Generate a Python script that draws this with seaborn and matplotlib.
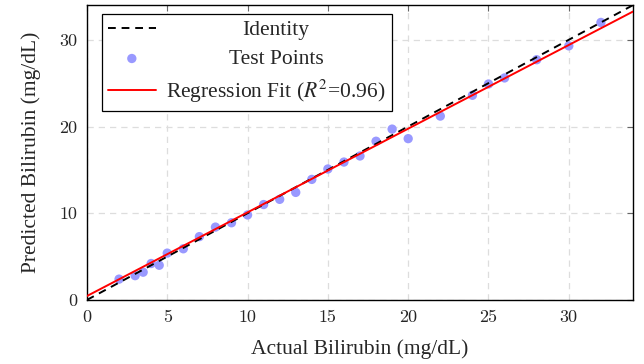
import numpy as np
import pandas as pd
import matplotlib
matplotlib.use("Agg")
import matplotlib.pyplot as plt
import seaborn as sns

# values
actual = [2, 3, 3.5, 4, 4.5, 5, 6, 7, 8, 9, 10, 11, 12, 13, 14, 15, 16, 17,
          18, 19, 20, 22, 24, 25, 26, 28, 30, 32]
predicted = [2.4, 2.8, 3.2, 4.2, 4.0, 5.4, 5.9, 7.3, 8.4, 8.9, 9.8, 11.0, 11.6,
             12.4, 13.9, 15.1, 15.9, 16.6, 18.3, 19.7, 18.6, 21.2, 23.6, 24.9,
             25.6, 27.7, 29.3, 32.0]
fit_slope = 0.965
fit_intercept = 0.45
r2_label = "0.96"
x_ticks = [0, 5, 10, 15, 20, 25, 30]
y_ticks = [0, 10, 20, 30]
x_max = 34
y_max = 34

sns.set_style("white")
plt.rcParams['font.family'] = ['Liberation Serif', 'DejaVu Serif']
plt.rcParams['mathtext.fontset'] = 'stix'

fig = plt.figure(figsize=(6.44, 3.64), dpi=100)
ax = fig.add_axes([0.135, 0.176, 0.848, 0.810])

df = pd.DataFrame({"actual": actual, "predicted": predicted})
line_x = np.array([0, x_max])
ident = pd.DataFrame({"x": line_x, "y": line_x})
fit = pd.DataFrame({"x": line_x, "y": fit_slope * line_x + fit_intercept})

sns.lineplot(data=ident, x="x", y="y", ax=ax, color="black", lw=1.4,
             linestyle=(0, (4, 3)), label="Identity", zorder=3)
sns.scatterplot(data=df, x="actual", y="predicted", ax=ax, color="#9999ff",
                s=45, edgecolor="none", label="Test Points", zorder=2)
sns.lineplot(data=fit, x="x", y="y", ax=ax, color="red", lw=1.4,
             label=r"Regression Fit ($R^2$=" + r2_label + ")", zorder=4)

ax.set_xlim(0, x_max)
ax.set_ylim(0, y_max)
ax.set_xticks(x_ticks)
ax.set_yticks(y_ticks)
ax.grid(True, color="#dddddd", linestyle=(0, (5, 4)), lw=0.9)
ax.tick_params(direction="in", top=True, right=True, length=4, labelsize=13,
               color="#666666", labelfontfamily="cmr10", pad=7)
for s in ax.spines.values():
    s.set_color("black")
    s.set_linewidth(1.0)

ax.set_xlabel("Actual Bilirubin (mg/dL)", fontsize=15.5, labelpad=10)
ax.set_ylabel("Predicted Bilirubin (mg/dL)", fontsize=15.5, labelpad=13)

leg = ax.legend(loc="upper left", fontsize=15.5, frameon=True, fancybox=False,
                edgecolor="black", framealpha=1, borderpad=0.3,
                handlelength=2.2, handletextpad=0.5, labelspacing=0.4,
                borderaxespad=0, bbox_to_anchor=(0.027, 0.97))
leg.get_frame().set_linewidth(0.9)

# centre the legend labels in their column, like the reference
fig.canvas.draw()
renderer = fig.canvas.get_renderer()
widths = [t.get_window_extent(renderer).width for t in leg.get_texts()]
for t, w in zip(leg.get_texts(), widths):
    t.set_x((max(widths) - w) / 2)

fig.savefig("out.png", dpi=100)
